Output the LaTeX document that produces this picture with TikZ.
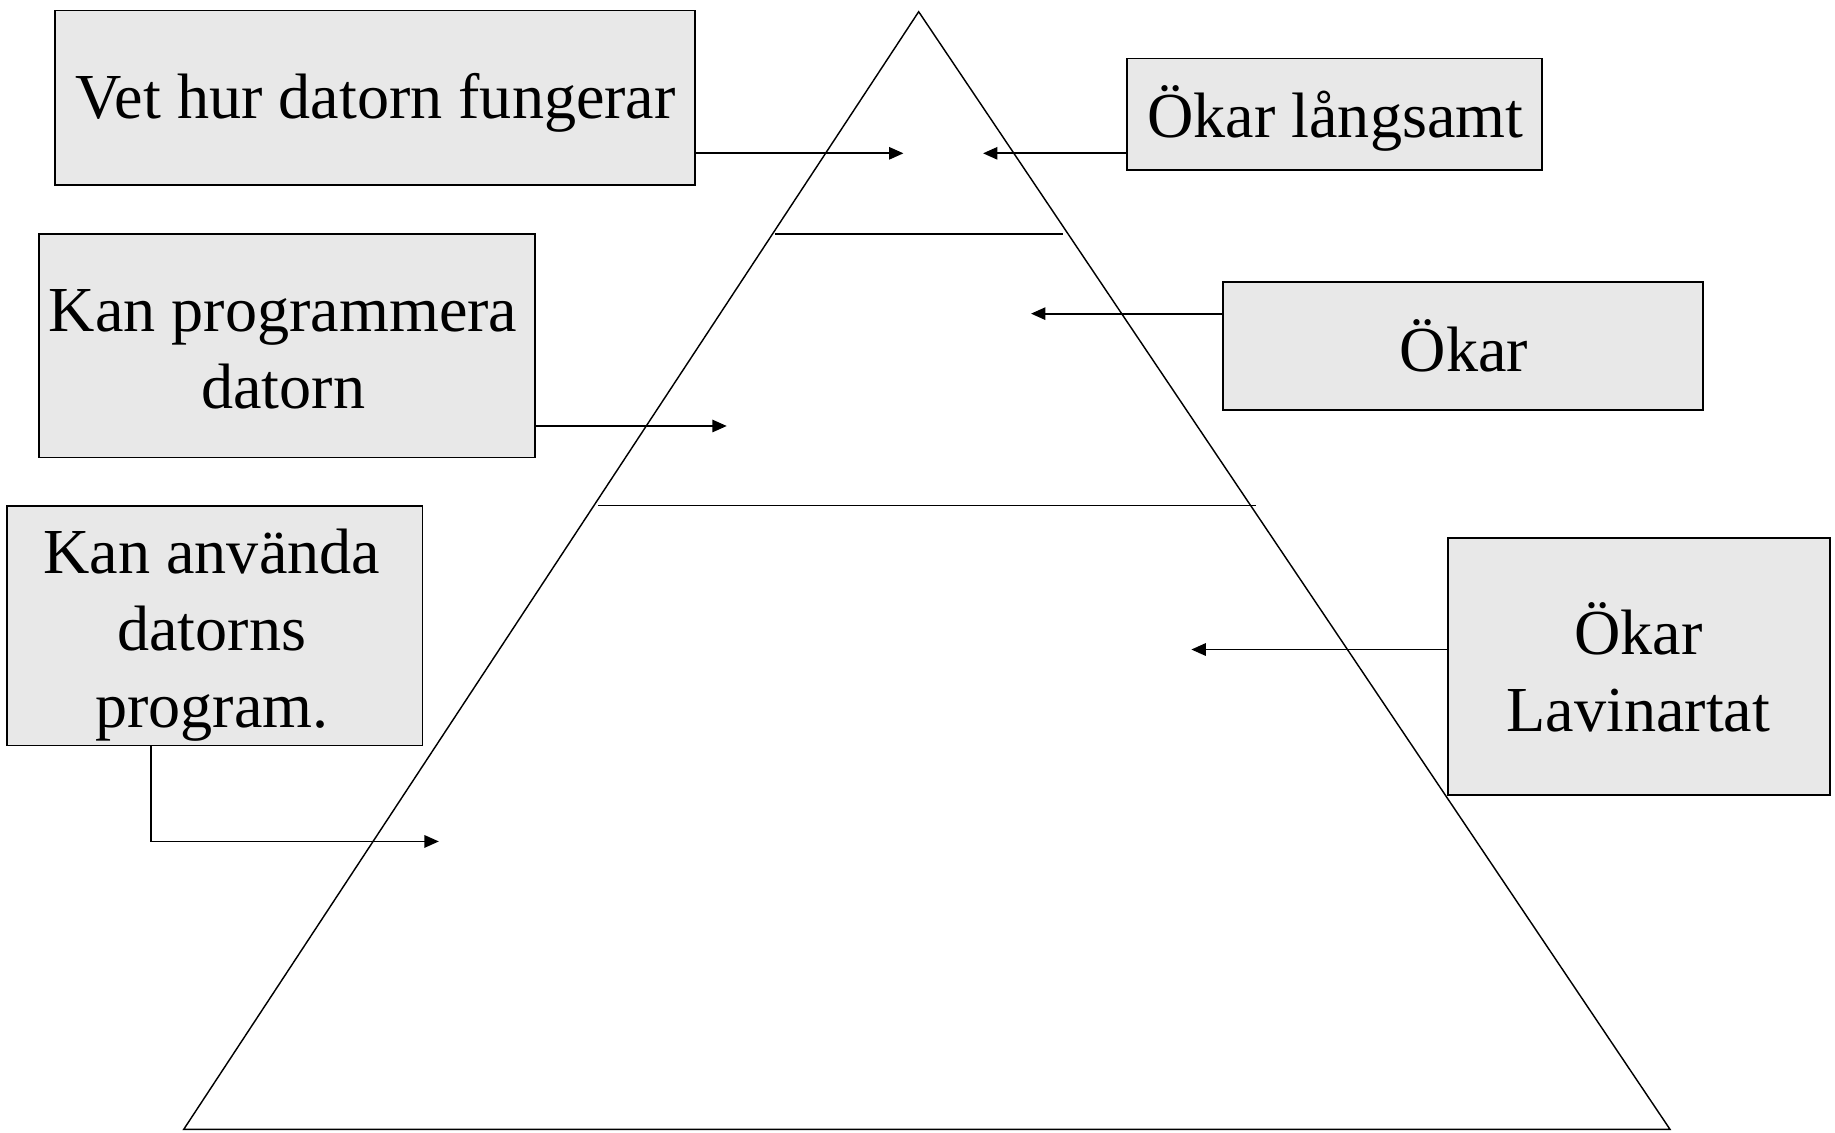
\documentclass[tikz,border=0pt]{standalone}
\usepackage{fontspec}
\setmainfont{Liberation Serif}
\usetikzlibrary{arrows.meta}
\definecolor{boxfill}{RGB}{232,232,232}
\begin{document}
\begin{tikzpicture}[x=0.02cm,y=-0.02cm,
  label box/.style={draw=black, line width=0.9pt, fill=boxfill, inner sep=0pt},
  box text/.style={inner sep=0pt, align=center, font=\fontsize{31.2}{37.5}\selectfont},
  pyr/.style={line width=0.7pt},
  arr/.style={line width=0.9pt, -{Triangle[length=7pt,width=6pt]}}]
\useasboundingbox (0,0) rectangle (1568,968);

% the pyramid and its two dividing lines
\coordinate (apex) at (785,10);
\coordinate (bl) at (157,965);
\coordinate (br) at (1427,965);
\draw[pyr] (apex) -- (bl) -- (br) -- cycle;
\draw[pyr] (662,200) -- (908,200);
\draw[pyr] (511,432) -- (1073,432);

% labels on the left
\node[label box, minimum width=10.94cm, minimum height=2.98cm] (know) at (320.5,83.5) {};
\node[box text] (know text) at (321,88) {Vet hur datorn fungerar};
\node[label box, minimum width=8.48cm, minimum height=3.82cm] (prog) at (245,295.5) {};
\node[box text] (prog text) at (242,298.5) {Kan programmera\\datorn};
\node[label box, minimum width=7.10cm, minimum height=4.10cm] (use) at (183.5,534.5) {};
\node[box text] (use text) at (181,543) {Kan använda\\datorns\\program.};

% labels on the right
\node[label box, minimum width=7.10cm, minimum height=1.90cm] (slow) at (1140.5,97.5) {};
\node[box text] (slow text) at (1141,101) {Ökar långsamt};
\node[label box, minimum width=8.20cm, minimum height=2.18cm] (grow) at (1250,295.5) {};
\node[box text] (grow text) at (1251,295.5) {Ökar};
\node[label box, minimum width=6.54cm, minimum height=4.38cm] (aval) at (1400.5,569.5) {};
\node[box text] (aval text) at (1400,570.5) {Ökar\\Lavinartat};

% arrow tips inside the pyramid
\coordinate (t1) at (772,131);
\coordinate (t2) at (840,131);
\coordinate (t3) at (621,364);
\coordinate (t4) at (881,268);
\coordinate (bend) at (129,719);
\coordinate (t5) at (375,719);
\coordinate (t6) at (1018,555);

\draw[arr] (know.east |- t1) -- (t1);
\draw[arr] (slow.west |- t2) -- (t2);
\draw[arr] (prog.east |- t3) -- (t3);
\draw[arr] (grow.west |- t4) -- (t4);
\draw[arr] (use.south -| bend) -- (bend) -- (t5);
\draw[arr] (aval.west |- t6) -- (t6);
\end{tikzpicture}
\end{document}
